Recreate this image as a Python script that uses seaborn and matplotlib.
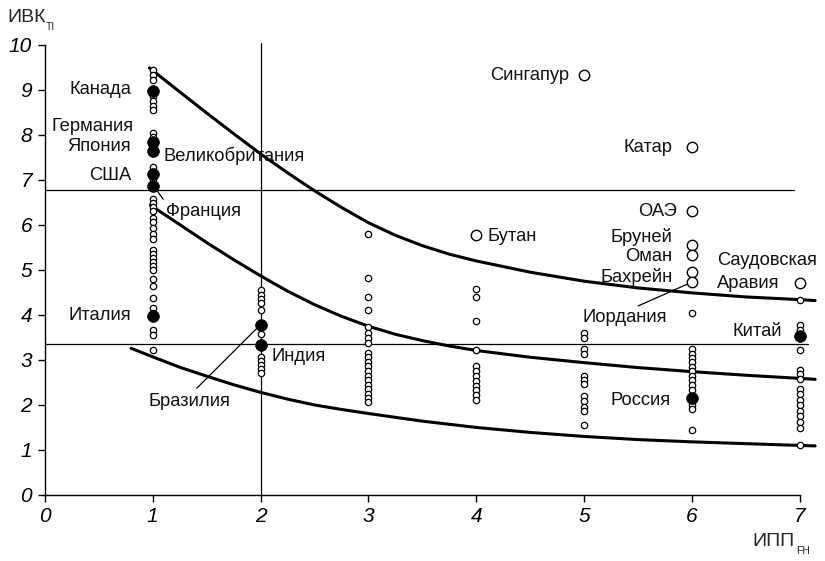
import matplotlib
matplotlib.use("Agg")
import matplotlib.pyplot as plt
from matplotlib import font_manager
import numpy as np
import pandas as pd
import seaborn as sns

# ---- data -------------------------------------------------------------
# unnamed countries: ИПП_FH class (x) and ИВК_TI value (y)
small_y1 = [9.44, 9.33, 9.22, 8.85, 8.74, 8.64, 8.54, 8.04, 7.95, 7.27, 7.02,
            6.57, 6.48, 6.39, 6.30, 6.15, 6.05, 5.93, 5.80, 5.67, 5.44, 5.35,
            5.26, 5.16, 5.07, 4.98, 4.78, 4.63, 4.37, 4.15, 4.04, 3.65, 3.54, 3.22]
small_y2 = [4.54, 4.44, 4.35, 4.26, 4.11, 3.56, 3.06, 2.96, 2.87, 2.78, 2.70]
small_y3 = [5.80, 4.81, 4.39, 4.11, 3.73, 3.58, 3.47, 3.36, 3.15, 3.05, 2.95,
            2.85, 2.75, 2.64, 2.54, 2.44, 2.34, 2.24, 2.14, 2.06]
small_y4 = [4.56, 4.39, 3.85, 3.21, 2.85, 2.74, 2.63, 2.52, 2.41, 2.32, 2.22, 2.11]
small_y5 = [3.59, 3.48, 3.24, 3.13, 2.64, 2.55, 2.45, 2.18, 2.07, 1.95, 1.85, 1.55]
small_y6 = [4.04, 3.24, 3.13, 3.04, 2.94, 2.84, 2.74, 2.64, 2.54, 2.44, 2.33,
            2.00, 1.90, 1.43]
small_y7 = [4.33, 3.76, 3.65, 3.22, 2.76, 2.67, 2.56, 2.35, 2.24, 2.11, 1.98,
            1.85, 1.74, 1.61, 1.48, 1.11]

# highlighted countries (filled markers)
filled_names = ["Канада", "Германия", "Япония", "США", "Франция", "Италия",
                "Бразилия", "Индия", "Россия", "Китай"]
filled_x = [1, 1, 1, 1, 1, 1, 2, 2, 6, 7]
filled_y = [8.97, 7.84, 7.64, 7.12, 6.85, 3.96, 3.76, 3.33, 2.15, 3.53]

# named countries with large open markers
named_names = ["Сингапур", "Бутан", "Катар", "ОАЭ", "Бруней", "Оман",
               "Бахрейн", "Иордания", "Саудовская Аравия"]
named_x = [5, 4, 6, 6, 6, 6, 6, 6, 7]
named_y = [9.33, 5.76, 7.73, 6.30, 5.55, 5.33, 4.95, 4.72, 4.70]

# boundary curves
upper_x = [0.97, 1.25, 1.5, 1.75, 2.0, 2.25, 2.5, 2.75, 3.0, 3.25, 3.5, 3.75,
           4.0, 4.5, 5.0, 5.5, 6.0, 6.5, 7.0, 7.14]
upper_y = [9.48, 8.95, 8.48, 8.02, 7.57, 7.15, 6.75, 6.38, 6.04, 5.76, 5.53, 5.34,
           5.19, 4.94, 4.74, 4.59, 4.48, 4.39, 4.33, 4.31]
middle_x = [0.98, 1.25, 1.5, 1.75, 2.0, 2.25, 2.5, 2.75, 3.0, 3.25, 3.5, 3.75,
            4.0, 4.5, 5.0, 5.5, 6.0, 6.5, 7.0, 7.14]
middle_y = [6.43, 6.00, 5.60, 5.22, 4.86, 4.52, 4.22, 3.96, 3.74, 3.56, 3.42, 3.30,
            3.20, 3.05, 2.93, 2.82, 2.73, 2.65, 2.58, 2.56]
lower_x = [0.8, 1.0, 1.25, 1.5, 1.75, 2.0, 2.25, 2.5, 2.75, 3.0, 3.5, 4.0, 4.5,
           5.0, 5.5, 6.0, 6.5, 7.0, 7.14]
lower_y = [3.25, 3.06, 2.83, 2.63, 2.44, 2.27, 2.12, 1.99, 1.89, 1.80, 1.63, 1.49,
           1.38, 1.29, 1.22, 1.17, 1.13, 1.09, 1.08]

# threshold lines
h_upper = 6.77
h_lower = 3.34
v_line = 2

x_ticks = [0, 1, 2, 3, 4, 5, 6, 7]
y_ticks = [0, 1, 2, 3, 4, 5, 6, 7, 8, 9, 10]

# ---- tables -----------------------------------------------------------
small_cols = [small_y1, small_y2, small_y3, small_y4, small_y5, small_y6, small_y7]
small = pd.DataFrame({
    "x": np.concatenate([[i + 1] * len(c) for i, c in enumerate(small_cols)]),
    "y": np.concatenate(small_cols),
})
filled = pd.DataFrame({"name": filled_names, "x": filled_x, "y": filled_y})
named = pd.DataFrame({"name": named_names, "x": named_x, "y": named_y})
curves = pd.concat([
    pd.DataFrame({"x": upper_x, "y": upper_y, "curve": "upper"}),
    pd.DataFrame({"x": middle_x, "y": middle_y, "curve": "middle"}),
    pd.DataFrame({"x": lower_x, "y": lower_y, "curve": "lower"}),
])

# ---- style ------------------------------------------------------------
sns.set_theme(style="white")
available = {f.name for f in font_manager.fontManager.ttflist}
label_font = "Liberation Sans" if "Liberation Sans" in available else "DejaVu Sans"
tick_font = "Liberation Sans Narrow" if "Liberation Sans Narrow" in available else label_font
plt.rcParams["font.family"] = [label_font, "DejaVu Sans"]
plt.rcParams["lines.solid_capstyle"] = "round"
plt.rcParams["lines.solid_joinstyle"] = "round"

W, H = 825, 561
fig = plt.figure(figsize=(W / 100, H / 100), dpi=100)
x0_px, unit_x = 44.7, 107.9
y0_px, unit_y = 494.5, 45.0
ax = fig.add_axes([x0_px / W, (H - y0_px) / H, 7.2 * unit_x / W, 10 * unit_y / H])
ax.set_xlim(0, 7.2)
ax.set_ylim(0, 10)

# threshold lines
ax.plot([0, 6.94], [h_upper, h_upper], color="black", lw=0.9, zorder=1)
ax.plot([0, 7.07], [h_lower, h_lower], color="black", lw=0.9, zorder=1)
ax.plot([v_line, v_line], [0, 10.03], color="black", lw=0.9, zorder=1, clip_on=False)

# curves
sns.lineplot(data=curves, x="x", y="y", units="curve", estimator=None, sort=False,
             color="black", lw=2.2, ax=ax, zorder=2)

# markers
sns.scatterplot(data=small, x="x", y="y", s=21, facecolor="white",
                edgecolor="black", linewidth=0.9, ax=ax, zorder=3)
sns.scatterplot(data=named, x="x", y="y", s=56, facecolor="white",
                edgecolor="black", linewidth=1.0, ax=ax, zorder=4)
sns.scatterplot(data=filled, x="x", y="y", s=72, color="black",
                edgecolor="black", linewidth=0.5, ax=ax, zorder=5)

# country labels: (text, x, y, ha)
fs = 13.2
labels = [
    ("Канада", 0.80, 8.99, "right"),
    ("Германия", 0.82, 8.17, "right"),
    ("Япония", 0.80, 7.74, "right"),
    ("Великобритания", 1.10, 7.52, "left"),
    ("США", 0.80, 7.10, "right"),
    ("Франция", 1.12, 6.28, "left"),
    ("Италия", 0.80, 3.97, "right"),
    ("Бразилия", 1.337, 2.06, "center"),
    ("Индия", 2.10, 3.06, "left"),
    ("Сингапур", 4.86, 9.32, "right"),
    ("Бутан", 4.10, 5.74, "left"),
    ("Катар", 5.82, 7.70, "right"),
    ("ОАЭ", 5.86, 6.30, "right"),
    ("Бруней", 5.82, 5.72, "right"),
    ("Оман", 5.82, 5.28, "right"),
    ("Бахрейн", 5.82, 4.83, "right"),
    ("Иордания", 4.98, 3.94, "left"),
    ("Саудовская", 6.23, 5.21, "left"),
    ("Аравия", 6.23, 4.70, "left"),
    ("Китай", 6.83, 3.63, "right"),
    ("Россия", 5.24, 2.08, "left"),
]
for text, tx, ty, ha in labels:
    ax.text(tx, ty, text, ha=ha, va="center", fontsize=fs, color="#111111",
            clip_on=False)

# leader lines
for (xa, ya), (xb, yb) in [((1.035, 6.77), (1.099, 6.56)),
                           ((1.409, 2.36), (1.965, 3.69)),
                           ((5.50, 4.19), (5.98, 4.70))]:
    ax.plot([xa, xb], [ya, yb], color="black", lw=0.9, zorder=2)

# axes
for side in ["top", "right"]:
    ax.spines[side].set_visible(False)
for side in ["left", "bottom"]:
    ax.spines[side].set_color("black")
    ax.spines[side].set_linewidth(1.0)
ax.spines["left"].set_bounds(0, 10)
ax.spines["bottom"].set_bounds(0, 7)
ax.set_xticks(x_ticks)
ax.set_yticks(y_ticks)
ax.set_xticklabels([str(v) for v in x_ticks])
ax.set_yticklabels([str(v) for v in y_ticks])
ax.tick_params(axis="both", direction="out", length=5, width=1.0, color="black",
               labelsize=15, labelcolor="black", pad=4,
               left=True, bottom=True)
for lbl in ax.get_xticklabels() + ax.get_yticklabels():
    lbl.set_fontstyle("italic")
    lbl.set_fontfamily(tick_font)
ax.set_xlabel("")
ax.set_ylabel("")

# axis titles with subscripts
fig.text(7 / W, 1 - 18 / H, "ИВК", ha="left", va="center", fontsize=14)
fig.text(46 / W, 1 - 27 / H, "TI", ha="left", va="center", fontsize=7.5,
         family=[tick_font, "DejaVu Sans"])
fig.text(795 / W, 1 - 541 / H, "ИПП", ha="right", va="center", fontsize=14)
fig.text(796 / W, 1 - 551 / H, "FH", ha="left", va="center", fontsize=7.5,
         family=[tick_font, "DejaVu Sans"])

fig.savefig("out.png", dpi=100)
